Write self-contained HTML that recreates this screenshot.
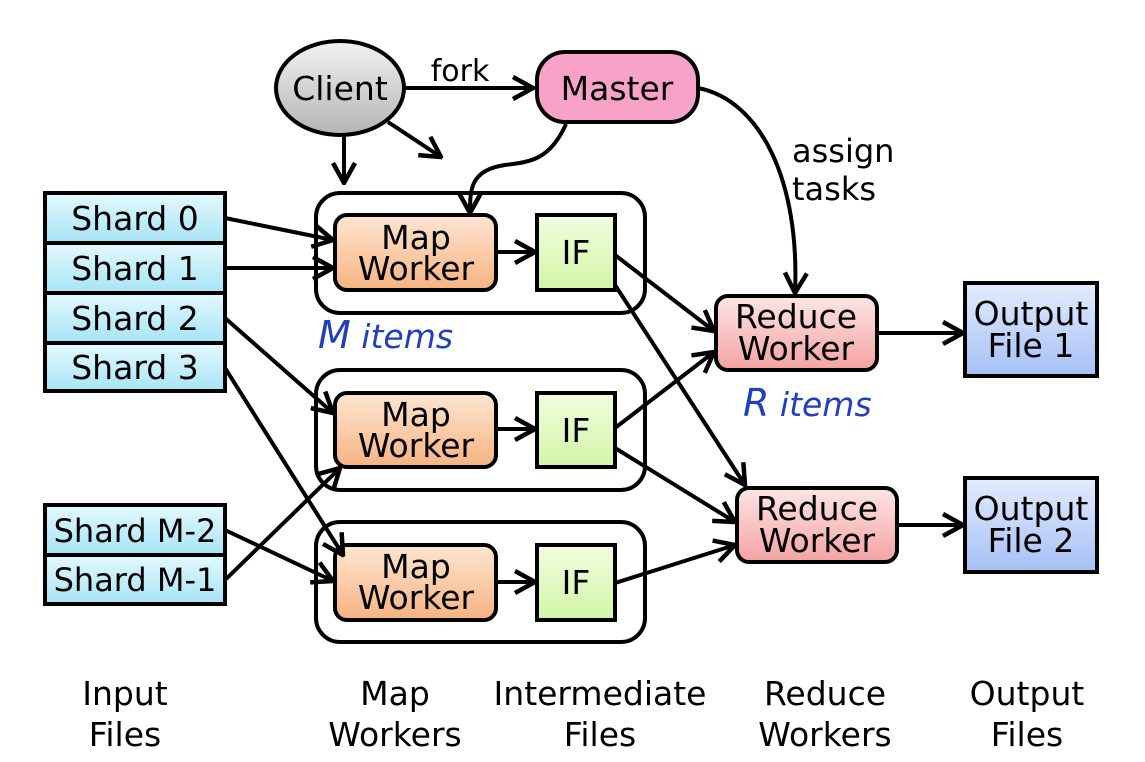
<!DOCTYPE html>
<html><head><meta charset="utf-8"><style>
html,body{margin:0;padding:0;background:#fff;}
svg{display:block;}
text{font-family:"DejaVu Sans","Liberation Sans",sans-serif;fill:#000;}
</style></head><body>
<svg width="1145" height="762" viewBox="0 0 1145 762" xmlns="http://www.w3.org/2000/svg">
<defs>
<linearGradient id="gc" x1="0" y1="0" x2="0" y2="1"><stop offset="0" stop-color="#f2f2f2"/><stop offset="1" stop-color="#b4b4b4"/></linearGradient>
<linearGradient id="gs" x1="0" y1="0" x2="0" y2="1"><stop offset="0" stop-color="#e4f9fd"/><stop offset="1" stop-color="#a6e4f6"/></linearGradient>
<linearGradient id="gm" x1="0" y1="0" x2="0" y2="1"><stop offset="0" stop-color="#fde6d2"/><stop offset="1" stop-color="#f6b381"/></linearGradient>
<linearGradient id="gi" x1="0" y1="0" x2="0" y2="1"><stop offset="0" stop-color="#f2fde0"/><stop offset="1" stop-color="#d2f5a6"/></linearGradient>
<linearGradient id="gr" x1="0" y1="0" x2="0" y2="1"><stop offset="0" stop-color="#fde6e6"/><stop offset="1" stop-color="#f4a2a2"/></linearGradient>
<linearGradient id="go" x1="0" y1="0" x2="0" y2="1"><stop offset="0" stop-color="#e2ecfd"/><stop offset="1" stop-color="#a6c0f6"/></linearGradient>
<marker id="b" viewBox="0 0 28 28" refX="26" refY="14" markerWidth="28" markerHeight="28" orient="auto" markerUnits="userSpaceOnUse">
<path d="M6,3 L26,14 L6,25" fill="none" stroke="#000" stroke-width="4.5" stroke-linejoin="miter"/></marker>
</defs>

<g stroke="#000" stroke-width="4">
<rect x="316" y="193" width="329" height="120" rx="24" fill="none"/>
<rect x="316" y="370" width="329" height="120" rx="24" fill="none"/>
<rect x="316" y="522" width="329" height="120" rx="24" fill="none"/>
<ellipse cx="340" cy="88" rx="64" ry="47" fill="url(#gc)"/>
<rect x="537" y="52" width="161" height="70" rx="28" fill="#f9a2c8"/>
<rect x="45" y="193" width="180" height="50" fill="url(#gs)"/>
<rect x="45" y="243" width="180" height="50" fill="url(#gs)"/>
<rect x="45" y="293" width="180" height="50" fill="url(#gs)"/>
<rect x="45" y="343" width="180" height="48" fill="url(#gs)"/>
<rect x="45" y="505" width="180" height="50" fill="url(#gs)"/>
<rect x="45" y="555" width="180" height="49" fill="url(#gs)"/>
<rect x="335" y="215" width="161" height="75" rx="12" fill="url(#gm)"/>
<rect x="335" y="393" width="161" height="74" rx="12" fill="url(#gm)"/>
<rect x="335" y="545" width="161" height="75" rx="12" fill="url(#gm)"/>
<rect x="537" y="215" width="78" height="75" fill="url(#gi)"/>
<rect x="537" y="393" width="78" height="74" fill="url(#gi)"/>
<rect x="537" y="545" width="78" height="75" fill="url(#gi)"/>
<rect x="716" y="296" width="161" height="74" rx="12" fill="url(#gr)"/>
<rect x="737" y="488" width="160" height="74" rx="12" fill="url(#gr)"/>
<rect x="965" y="283" width="132" height="93" fill="url(#go)"/>
<rect x="965" y="478" width="132" height="94" fill="url(#go)"/>
</g>

<g stroke="#000" stroke-width="4" fill="none" marker-end="url(#b)">
<line x1="405" y1="88" x2="533" y2="88"/>
<line x1="344" y1="136" x2="344" y2="183"/>
<line x1="388" y1="122" x2="441" y2="157"/>
<path d="M566,124 C550,160 530,162 505,165 C470,170 470,190 470,213"/>
<path d="M698,88 C760,100 800,180 795,293"/>
<line x1="225" y1="218" x2="333" y2="240"/>
<line x1="225" y1="268" x2="333" y2="268"/>
<line x1="225" y1="318" x2="333" y2="413"/>
<line x1="225" y1="368" x2="343" y2="555"/>
<line x1="225" y1="530" x2="333" y2="581"/>
<line x1="225" y1="580" x2="340" y2="468"/>
<line x1="496" y1="252" x2="535" y2="252"/>
<line x1="496" y1="429" x2="535" y2="429"/>
<line x1="496" y1="582" x2="535" y2="582"/>
<line x1="615" y1="255" x2="714" y2="331"/>
<line x1="615" y1="285" x2="745" y2="485"/>
<line x1="615" y1="428" x2="714" y2="352"/>
<line x1="615" y1="448" x2="735" y2="522"/>
<line x1="615" y1="583" x2="735" y2="545"/>
<line x1="877" y1="333" x2="963" y2="333"/>
<line x1="897" y1="525" x2="963" y2="525"/>
</g>

<g font-size="33" text-anchor="middle">
<text x="340" y="100">Client</text>
<text x="617" y="100">Master</text>
<text x="460" y="81" font-size="30">fork</text>
<text x="135" y="230">Shard 0</text>
<text x="135" y="280">Shard 1</text>
<text x="135" y="330">Shard 2</text>
<text x="135" y="379">Shard 3</text>
<text x="135" y="542" font-size="32">Shard M-2</text>
<text x="135" y="591" font-size="32">Shard M-1</text>
<text x="416" y="249">Map</text><text x="416" y="280">Worker</text>
<text x="416" y="426">Map</text><text x="416" y="457">Worker</text>
<text x="416" y="578">Map</text><text x="416" y="609">Worker</text>
<text x="576" y="264">IF</text>
<text x="576" y="442">IF</text>
<text x="576" y="594">IF</text>
<text x="796" y="328">Reduce</text><text x="796" y="360">Worker</text>
<text x="817" y="520">Reduce</text><text x="817" y="552">Worker</text>
<text x="1031" y="325">Output</text><text x="1031" y="357">File 1</text>
<text x="1031" y="520">Output</text><text x="1031" y="552">File 2</text>
<text x="125" y="705">Input</text><text x="125" y="746">Files</text>
<text x="395" y="705">Map</text><text x="395" y="746">Workers</text>
<text x="600" y="705">Intermediate</text><text x="600" y="746">Files</text>
<text x="825" y="705">Reduce</text><text x="825" y="746">Workers</text>
<text x="1027" y="705">Output</text><text x="1027" y="746">Files</text>
</g>
<g font-size="32" text-anchor="start">
<text x="792" y="162">assign</text>
<text x="792" y="200">tasks</text>
</g>
<g font-size="33" font-style="italic">
<text x="318" y="348" style="fill:#1f3fbf"><tspan font-size="38">M</tspan> items</text>
<text x="743" y="416" style="fill:#1f3fbf"><tspan font-size="38">R</tspan> items</text>
</g>
</svg>
</body></html>
